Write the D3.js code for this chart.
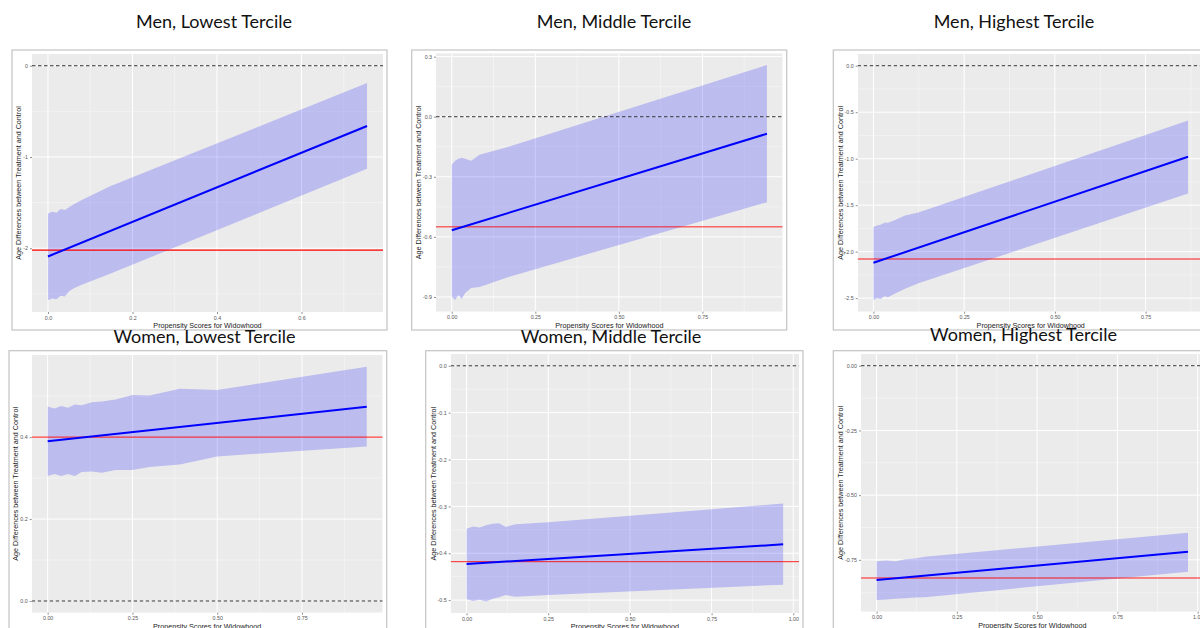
<!DOCTYPE html>
<html>
<head>
<meta charset="utf-8">
<script src="https://cdn.jsdelivr.net/npm/d3@7"></script>
<style>
  html, body { margin: 0; padding: 0; background: #ffffff; }
  svg { display: block; }
</style>
</head>
<body>
<svg id="chart" width="1200" height="628"></svg>
<script>
// ---------------- DATA ----------------
const titles = ["Men, Lowest Tercile", "Men, Middle Tercile", "Men, Highest Tercile",
                "Women, Lowest Tercile", "Women, Middle Tercile", "Women, Highest Tercile"];
const xAxisTitle = "Propensity Scores for Widowhood";
const yAxisTitle = "Age Differences between Treatment and Control";

// Men, lowest tercile
const menLowBandX   = [0, 0.01, 0.02, 0.03, 0.04, 0.05, 0.06, 0.08, 0.147, 0.755];
const menLowUpper   = [-1.62, -1.60, -1.61, -1.57, -1.58, -1.55, -1.52, -1.47, -1.32, -0.19];
const menLowLower   = [-2.57, -2.55, -2.56, -2.52, -2.53, -2.47, -2.44, -2.40, -2.28, -1.13];
const menLowLineX   = [0, 0.755];
const menLowLineY   = [-2.09, -0.66];
const menLowRef     = -2.02;
const menLowXTicks  = [0, 0.2, 0.4, 0.6];
const menLowXLabels = ["0.0", "0.2", "0.4", "0.6"];
const menLowYTicks  = [0, -1, -2];
const menLowYLabels = ["0", "-1", "-2"];

// Men, middle tercile
const menMidBandX   = [0, 0.01, 0.02, 0.03, 0.04, 0.058, 0.083, 0.17, 0.943];
const menMidUpper   = [-0.24, -0.22, -0.21, -0.205, -0.21, -0.22, -0.19, -0.15, 0.258];
const menMidLower   = [-0.90, -0.915, -0.89, -0.91, -0.88, -0.855, -0.85, -0.80, -0.427];
const menMidLineX   = [0, 0.943];
const menMidLineY   = [-0.567, -0.085];
const menMidRef     = -0.55;
const menMidXTicks  = [0, 0.25, 0.5, 0.75];
const menMidXLabels = ["0.00", "0.25", "0.50", "0.75"];
const menMidYTicks  = [0.3, 0, -0.3, -0.6, -0.9];
const menMidYLabels = ["0.3", "0.0", "-0.3", "-0.6", "-0.9"];

// Men, highest tercile
const menHighBandX   = [0, 0.01, 0.02, 0.03, 0.04, 0.06, 0.087, 0.124, 0.867];
const menHighUpper   = [-1.735, -1.72, -1.71, -1.69, -1.69, -1.66, -1.61, -1.58, -0.59];
const menHighLower   = [-2.52, -2.50, -2.51, -2.48, -2.49, -2.45, -2.40, -2.34, -1.375];
const menHighLineX   = [0, 0.867];
const menHighLineY   = [-2.12, -0.98];
const menHighRef     = -2.08;
const menHighXTicks  = [0, 0.25, 0.5, 0.75];
const menHighXLabels = ["0.00", "0.25", "0.50", "0.75"];
const menHighYTicks  = [0, -0.5, -1, -1.5, -2, -2.5];
const menHighYLabels = ["0.0", "-0.5", "-1.0", "-1.5", "-2.0", "-2.5"];

// Women, lowest tercile
const womenLowBandX   = [0, 0.02, 0.04, 0.06, 0.08, 0.1, 0.13, 0.16, 0.2, 0.25, 0.3, 0.39, 0.5, 0.941];
const womenLowUpper   = [0.475, 0.470, 0.476, 0.472, 0.480, 0.478, 0.485, 0.487, 0.492, 0.503, 0.502, 0.518, 0.515, 0.572];
const womenLowLower   = [0.305, 0.310, 0.305, 0.310, 0.305, 0.315, 0.316, 0.313, 0.320, 0.320, 0.327, 0.333, 0.353, 0.377];
const womenLowLineX   = [0, 0.941];
const womenLowLineY   = [0.39, 0.474];
const womenLowRef     = 0.40;
const womenLowXTicks  = [0, 0.25, 0.5, 0.75];
const womenLowXLabels = ["0.00", "0.25", "0.50", "0.75"];
const womenLowYTicks  = [0, 0.2, 0.4];
const womenLowYLabels = ["0.0", "0.2", "0.4"];

// Women, middle tercile
const womenMidBandX   = [0, 0.02, 0.04, 0.06, 0.08, 0.10, 0.12, 0.15, 0.25, 0.969];
const womenMidUpper   = [-0.348, -0.343, -0.345, -0.340, -0.337, -0.336, -0.344, -0.338, -0.334, -0.294];
const womenMidLower   = [-0.498, -0.502, -0.499, -0.503, -0.497, -0.494, -0.489, -0.493, -0.489, -0.467];
const womenMidLineX   = [0, 0.969];
const womenMidLineY   = [-0.423, -0.381];
const womenMidRef     = -0.418;
const womenMidXTicks  = [0, 0.25, 0.5, 0.75, 1.0];
const womenMidXLabels = ["0.00", "0.25", "0.50", "0.75", "1.00"];
const womenMidYTicks  = [0, -0.1, -0.2, -0.3, -0.4, -0.5];
const womenMidYLabels = ["0.0", "-0.1", "-0.2", "-0.3", "-0.4", "-0.5"];

// Women, highest tercile
const womenHighBandX   = [0, 0.03, 0.06, 0.09, 0.12, 0.15, 0.97];
const womenHighUpper   = [-0.755, -0.752, -0.755, -0.748, -0.745, -0.738, -0.645];
const womenHighLower   = [-0.905, -0.903, -0.900, -0.898, -0.895, -0.894, -0.796];
const womenHighLineX   = [0, 0.97];
const womenHighLineY   = [-0.828, -0.719];
const womenHighRef     = -0.82;
const womenHighXTicks  = [0, 0.25, 0.5, 0.75, 1.0];
const womenHighXLabels = ["0.00", "0.25", "0.50", "0.75", "1.00"];
const womenHighYTicks  = [0, -0.25, -0.5, -0.75];
const womenHighYLabels = ["0.00", "-0.25", "-0.50", "-0.75"];

// ---------------- ASSEMBLY ----------------
const panelData = [
  {bx: menLowBandX, up: menLowUpper, lo: menLowLower, lx: menLowLineX, ly: menLowLineY, ref: menLowRef,
   xt: menLowXTicks, xl: menLowXLabels, yt: menLowYTicks, yl: menLowYLabels},
  {bx: menMidBandX, up: menMidUpper, lo: menMidLower, lx: menMidLineX, ly: menMidLineY, ref: menMidRef,
   xt: menMidXTicks, xl: menMidXLabels, yt: menMidYTicks, yl: menMidYLabels},
  {bx: menHighBandX, up: menHighUpper, lo: menHighLower, lx: menHighLineX, ly: menHighLineY, ref: menHighRef,
   xt: menHighXTicks, xl: menHighXLabels, yt: menHighYTicks, yl: menHighYLabels},
  {bx: womenLowBandX, up: womenLowUpper, lo: womenLowLower, lx: womenLowLineX, ly: womenLowLineY, ref: womenLowRef,
   xt: womenLowXTicks, xl: womenLowXLabels, yt: womenLowYTicks, yl: womenLowYLabels},
  {bx: womenMidBandX, up: womenMidUpper, lo: womenMidLower, lx: womenMidLineX, ly: womenMidLineY, ref: womenMidRef,
   xt: womenMidXTicks, xl: womenMidXLabels, yt: womenMidYTicks, yl: womenMidYLabels},
  {bx: womenHighBandX, up: womenHighUpper, lo: womenHighLower, lx: womenHighLineX, ly: womenHighLineY, ref: womenHighRef,
   xt: womenHighXTicks, xl: womenHighXLabels, yt: womenHighYTicks, yl: womenHighYLabels}
];

// layout (pixels): frame box, plot box, title anchor, reference-line style
const layout = [
  {frame: [12, 50, 387, 330],       plot: [32, 54, 383, 312],       title: [214, 28],    refW: 1.1, refOp: 1},
  {frame: [411.7, 50, 786.7, 330],  plot: [436, 53.3, 782.7, 311.7], title: [614, 28],   refW: 1.0, refOp: 0.85},
  {frame: [833.3, 50, 1212, 330],   plot: [857.7, 54, 1203.8, 311.7], title: [1014, 28], refW: 2.0, refOp: 0.45},
  {frame: [9, 350.7, 386.7, 650],   plot: [31.7, 355, 382.7, 612.7], title: [204.5, 343], refW: 1.4, refOp: 0.75},
  {frame: [425.7, 350.7, 803, 650], plot: [450.7, 354, 799, 613.3],  title: [611, 343],   refW: 1.0, refOp: 0.85},
  {frame: [833.3, 350.7, 1212, 650], plot: [861, 354, 1203.6, 611.7], title: [1023.5, 340.5], refW: 1.6, refOp: 0.6}
];

const svg = d3.select("#chart");
svg.append("rect").attr("width", 1200).attr("height", 628).attr("fill", "#ffffff");

function expand(ext, f) {
  const r = ext[1] - ext[0];
  return [ext[0] - r * f, ext[1] + r * f];
}
function minorBreaks(major, dom) {
  const s = major.slice().sort((a, b) => a - b);
  const step = s[1] - s[0];
  const out = [];
  for (let i = 0; i < s.length - 1; i++) out.push((s[i] + s[i + 1]) / 2);
  out.push(s[0] - step / 2, s[s.length - 1] + step / 2);
  return out.filter(v => v >= dom[0] && v <= dom[1]);
}

panelData.forEach((d, i) => {
  const L = layout[i];
  const [pl, pt, pr, pb] = L.plot;
  const [fl, ft, fr, fb] = L.frame;

  // Frame (image border)
  svg.append("rect")
    .attr("x", fl).attr("y", ft).attr("width", fr - fl).attr("height", fb - ft)
    .attr("fill", "#ffffff").attr("stroke", "#c4c4c4").attr("stroke-width", 1.2);

  // Title
  svg.append("text")
    .attr("x", L.title[0]).attr("y", L.title[1])
    .attr("text-anchor", "middle")
    .attr("font-family", "Lato, 'Open Sans', sans-serif")
    .attr("font-size", 18)
    .attr("fill", "#111111")
    .text(titles[i]);

  // Scales (ggplot-like 5% expansion of the data range)
  const xExt = d3.extent(d.bx.concat(d.lx));
  const yVals = d.up.concat(d.lo, d.ly, [d.ref, 0]);
  const yExt = d3.extent(yVals);
  const xDom = expand(xExt, 0.05);
  const yDom = expand(yExt, 0.05);
  const x = d3.scaleLinear().domain(xDom).range([pl, pr]);
  const y = d3.scaleLinear().domain(yDom).range([pb, pt]);

  const clipId = "clip" + i;
  svg.append("clipPath").attr("id", clipId)
    .append("rect").attr("x", pl).attr("y", pt).attr("width", pr - pl).attr("height", pb - pt);

  const g = svg.append("g").attr("clip-path", `url(#${clipId})`);

  // Panel background
  g.append("rect").attr("x", pl).attr("y", pt).attr("width", pr - pl).attr("height", pb - pt)
    .attr("fill", "#ebebeb");

  // Minor grid
  minorBreaks(d.xt, xDom).forEach(v => {
    g.append("line").attr("x1", x(v)).attr("x2", x(v)).attr("y1", pt).attr("y2", pb)
      .attr("stroke", "#ffffff").attr("stroke-width", 0.5).attr("opacity", 0.8);
  });
  minorBreaks(d.yt, yDom).forEach(v => {
    g.append("line").attr("y1", y(v)).attr("y2", y(v)).attr("x1", pl).attr("x2", pr)
      .attr("stroke", "#ffffff").attr("stroke-width", 0.5).attr("opacity", 0.8);
  });
  // Major grid
  d.xt.forEach(v => {
    g.append("line").attr("x1", x(v)).attr("x2", x(v)).attr("y1", pt).attr("y2", pb)
      .attr("stroke", "#ffffff").attr("stroke-width", 1);
  });
  d.yt.forEach(v => {
    g.append("line").attr("y1", y(v)).attr("y2", y(v)).attr("x1", pl).attr("x2", pr)
      .attr("stroke", "#ffffff").attr("stroke-width", 1);
  });

  // Confidence ribbon
  const band = d.bx.map((bx, k) => ({x: bx, lo: d.lo[k], up: d.up[k]}));
  const area = d3.area().x(p => x(p.x)).y0(p => y(p.lo)).y1(p => y(p.up));
  g.append("path").datum(band).attr("d", area)
    .attr("fill", "#0000ff").attr("fill-opacity", 0.2);

  // Dashed zero line
  g.append("line").attr("x1", pl).attr("x2", pr).attr("y1", y(0)).attr("y2", y(0))
    .attr("stroke", "#333333").attr("stroke-width", 1).attr("stroke-dasharray", "3.5,2.5");

  // Red reference line
  g.append("line").attr("x1", pl).attr("x2", pr).attr("y1", y(d.ref)).attr("y2", y(d.ref))
    .attr("stroke", "#ff0000").attr("stroke-width", L.refW).attr("stroke-opacity", L.refOp);

  // Fitted line
  const pts = d.lx.map((lx, k) => ({x: lx, y: d.ly[k]}));
  g.append("path").datum(pts)
    .attr("d", d3.line().x(p => x(p.x)).y(p => y(p.y)))
    .attr("fill", "none").attr("stroke", "#0000ff").attr("stroke-width", 2);

  // Axes
  const fontAxis = "'Liberation Sans', Arial, sans-serif";
  const xAxis = d3.axisBottom(x).tickValues(d.xt).tickSize(2).tickPadding(2)
    .tickFormat((v, k) => d.xl[k]);
  const gx = svg.append("g").attr("transform", `translate(0,${pb})`).call(xAxis);
  gx.select(".domain").remove();
  gx.selectAll(".tick line").attr("stroke", "#444").attr("stroke-width", 0.6);
  gx.selectAll(".tick text").attr("font-family", fontAxis).attr("font-size", 5.3).attr("fill", "#555");

  const yAxis = d3.axisLeft(y).tickValues(d.yt).tickSize(2).tickPadding(2)
    .tickFormat((v, k) => d.yl[k]);
  const gy = svg.append("g").attr("transform", `translate(${pl},0)`).call(yAxis);
  gy.select(".domain").remove();
  gy.selectAll(".tick line").attr("stroke", "#444").attr("stroke-width", 0.6);
  gy.selectAll(".tick text").attr("font-family", fontAxis).attr("font-size", 5.3).attr("fill", "#555");

  let maxW = 0;
  gy.selectAll(".tick text").each(function () { maxW = Math.max(maxW, this.getComputedTextLength()); });

  // Axis titles
  svg.append("text")
    .attr("x", (pl + pr) / 2).attr("y", pb + 16)
    .attr("text-anchor", "middle")
    .attr("font-family", fontAxis).attr("font-size", 7.2).attr("fill", "#1a1a1a")
    .text(xAxisTitle);

  const ty = (pt + pb) / 2;
  const tx = pl - maxW - 6;
  svg.append("text")
    .attr("transform", `translate(${tx},${ty}) rotate(-90)`)
    .attr("text-anchor", "middle")
    .attr("font-family", fontAxis).attr("font-size", 7.2).attr("fill", "#1a1a1a")
    .text(yAxisTitle);
});
</script>
</body>
</html>
